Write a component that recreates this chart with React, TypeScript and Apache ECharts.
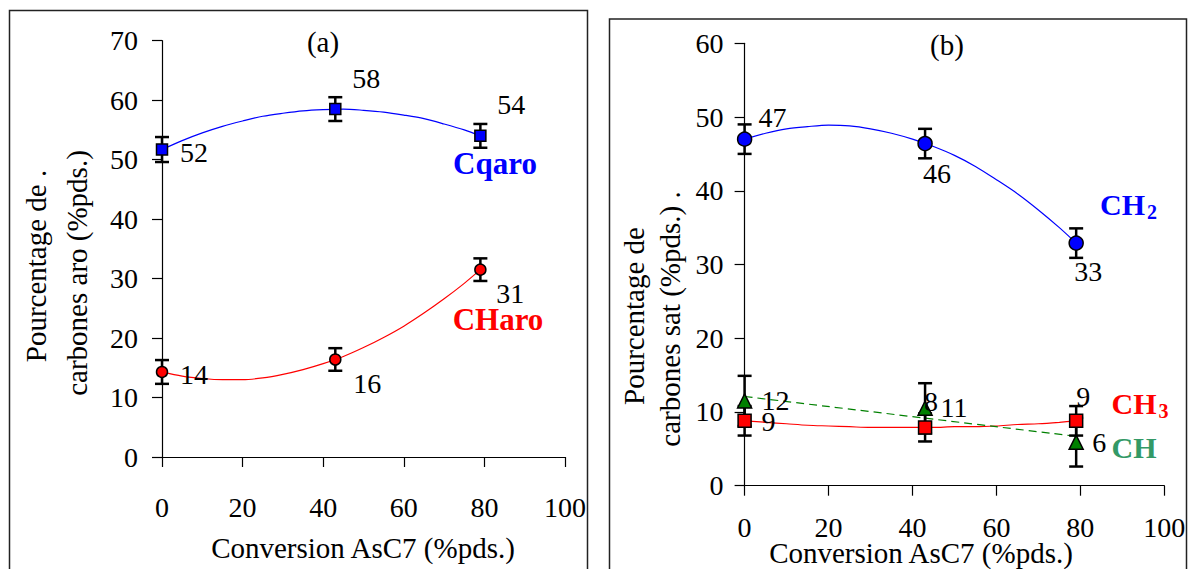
import React, { useEffect, useRef } from "react";
import * as echarts from "echarts";

// ---------- data ----------
const conversion = [0, 43, 79];
const xTicks = [0, 20, 40, 60, 80, 100];

// panel (a)
const cqaroValues = [51.7, 58.5, 54.0];
const cqaroErrors = [2.1, 2.0, 2.0];
const cqaroLabels = ["52", "58", "54"];
const charoValues = [14.3, 16.4, 31.5];
const charoErrors = [2.0, 1.9, 1.9];
const charoLabels = ["14", "16", "31"];
// trend curves
const trendX = [0, 5, 10, 15, 20, 25, 30, 35, 40, 45, 50, 55, 60, 65, 70, 75, 79];
const cqaroTrendY = [51.7, 53.2, 54.5, 55.6, 56.5, 57.3, 57.8, 58.2, 58.4, 58.5, 58.3, 58.0, 57.5, 56.9, 56.0, 55.0, 54.0];
const charoTrendY = [14.3, 13.6, 13.2, 13.0, 13.0, 13.3, 13.9, 14.7, 15.7, 16.9, 18.4, 20.1, 22.0, 24.2, 26.6, 29.2, 31.5];

// panel (b)
const ch2Values = [47.0, 46.4, 32.9];
const ch2Errors = [2.0, 2.0, 2.0];
const ch2Labels = ["47", "46", "33"];
const ch3Values = [8.8, 7.9, 8.8];
const ch3Errors = [2.0, 1.9, 2.0];
const ch3Labels = ["9", "8", "9"];
const chValues = [11.5, 10.5, 5.9];
const chErrors = [3.4, 3.4, 3.3];
const chLabels = ["12", "11", "6"];
const ch2TrendY = [47.0, 47.8, 48.4, 48.7, 48.9, 48.8, 48.4, 47.8, 47.0, 46.0, 44.8, 43.3, 41.5, 39.6, 37.4, 35.0, 32.9];
const ch3TrendY = [8.8, 8.6, 8.4, 8.2, 8.1, 8.0, 7.9, 7.9, 7.9, 7.9, 8.0, 8.0, 8.1, 8.3, 8.4, 8.6, 8.8];
const chTrendX = [0, 79];
const chTrendY = [12.1, 6.7];

// ---------- styles ----------
const FONT = '"Liberation Serif", "Times New Roman", Times, serif';
const BLUE = "#0000ff";
const RED = "#ff0000";
const GREEN = "#008000";
const SEAGREEN = "#339966";

const cqaroOffsets = [[32, 3], [31, -31], [31, -31]];
const charoOffsets = [[32, 3], [32, 24], [30, 24]];
const ch2Offsets = [[28, -22], [12, 30], [12, 28]];
const ch3Offsets = [[24, 1], [6, -26], [7, -24]];
const chOffsets = [[31, 0], [29, -1], [23, 0]];

function trendSeries(gi: number, xs: number[], ys: number[], color: string, dashed = false) {
  return {
    type: "line",
    xAxisIndex: gi,
    yAxisIndex: gi,
    z: 2,
    smooth: 0.3,
    showSymbol: false,
    symbol: "none",
    silent: true,
    lineStyle: { color, width: 1.2, type: dashed ? [8, 5] : "solid" },
    data: xs.map((x, i) => [x, ys[i]]),
  };
}

function errorSeries(gi: number, values: number[], errors: number[]) {
  return {
    type: "custom",
    xAxisIndex: gi,
    yAxisIndex: gi,
    z: 3,
    silent: true,
    encode: { x: 0, y: 1 },
    data: conversion.map((x, i) => [x, values[i], errors[i]]),
    renderItem: (_params: any, api: any) => {
      const x = api.value(0);
      const y = api.value(1);
      const e = api.value(2);
      const hi = api.coord([x, y + e]);
      const lo = api.coord([x, y - e]);
      const w = 7;
      const style = { stroke: "#000", lineWidth: 2.5 };
      return {
        type: "group",
        children: [
          { type: "line", shape: { x1: hi[0], y1: hi[1], x2: lo[0], y2: lo[1] }, style },
          { type: "line", shape: { x1: hi[0] - w, y1: hi[1], x2: hi[0] + w, y2: hi[1] }, style },
          { type: "line", shape: { x1: lo[0] - w, y1: lo[1], x2: lo[0] + w, y2: lo[1] }, style },
        ],
      };
    },
  };
}

function pointSeries(
  gi: number,
  values: number[],
  labels: string[],
  offsets: number[][],
  symbol: string,
  size: number,
  color: string
) {
  return {
    type: "scatter",
    xAxisIndex: gi,
    yAxisIndex: gi,
    z: 4,
    symbol,
    symbolSize: size,
    itemStyle: { color, borderColor: "#000", borderWidth: 1.5, opacity: 1 },
    label: {
      show: true,
      position: "inside",
      formatter: (p: any) => labels[p.dataIndex],
      color: "#000",
      fontFamily: FONT,
      fontSize: 28,
      lineHeight: 20,
    },
    data: conversion.map((x, i) => ({ value: [x, values[i]], label: { offset: offsets[i] } })),
  };
}

function xAxisCfg(gi: number, labelMargin: number) {
  return {
    type: "value",
    gridIndex: gi,
    min: 0,
    max: 100,
    interval: 20,
    axisLine: { show: true, lineStyle: { color: "#000", width: 1.2 } },
    axisTick: { show: true, length: 10, lineStyle: { color: "#000", width: 1.2 } },
    axisLabel: {
      margin: labelMargin,
      color: "#000",
      fontFamily: FONT,
      fontSize: 28,
      lineHeight: 20,
      formatter: (v: number) => (xTicks.includes(v) ? String(v) : ""),
    },
    splitLine: { show: false },
  };
}

function yAxisCfg(gi: number, max: number, labelMargin: number) {
  return {
    type: "value",
    gridIndex: gi,
    min: 0,
    max,
    interval: 10,
    axisLine: { show: true, lineStyle: { color: "#000", width: 1.2 } },
    axisTick: { show: true, length: 10, lineStyle: { color: "#000", width: 1.2 } },
    axisLabel: { margin: labelMargin, color: "#000", fontFamily: FONT, fontSize: 28 },
    splitLine: { show: false },
  };
}

function txt(
  text: string,
  x: number,
  y: number,
  size: number,
  color = "#000",
  bold = false,
  rotation = 0
) {
  return {
    type: "text",
    x,
    y,
    rotation,
    silent: true,
    style: {
      text,
      fill: color,
      fontFamily: FONT,
      fontSize: size,
      fontWeight: bold ? "bold" : "normal",
      lineHeight: Math.round(size * 0.75),
      align: "center",
      verticalAlign: "middle",
      textAlign: "center",
      textVerticalAlign: "middle",
    },
  };
}

export default function App() {
  const ref = useRef<HTMLDivElement>(null);

  useEffect(() => {
    if (!ref.current) return;
    const chart = echarts.init(ref.current, undefined, { renderer: "svg" });
    const R = Math.PI / 2;
    chart.setOption({
      animation: false,
      backgroundColor: "#fff",
      grid: [
        { left: 162, top: 40.7, width: 403, height: 416.3 },
        { left: 744.6, top: 43.3, width: 419.7, height: 442.4 },
      ],
      xAxis: [xAxisCfg(0, 40), xAxisCfg(1, 32)],
      yAxis: [yAxisCfg(0, 70, 24), yAxisCfg(1, 60, 21)],
      series: [
        trendSeries(0, trendX, cqaroTrendY, BLUE),
        trendSeries(0, trendX, charoTrendY, RED),
        errorSeries(0, cqaroValues, cqaroErrors),
        errorSeries(0, charoValues, charoErrors),
        pointSeries(0, cqaroValues, cqaroLabels, cqaroOffsets, "rect", 11, BLUE),
        pointSeries(0, charoValues, charoLabels, charoOffsets, "circle", 11, RED),

        trendSeries(1, trendX, ch2TrendY, BLUE),
        trendSeries(1, trendX, ch3TrendY, RED),
        trendSeries(1, chTrendX, chTrendY, GREEN, true),
        errorSeries(1, ch2Values, ch2Errors),
        errorSeries(1, ch3Values, ch3Errors),
        errorSeries(1, chValues, chErrors),
        pointSeries(1, ch2Values, ch2Labels, ch2Offsets, "circle", 14, BLUE),
        pointSeries(1, chValues, chLabels, chOffsets, "triangle", 14, GREEN),
        pointSeries(1, ch3Values, ch3Labels, ch3Offsets, "rect", 13, RED),
      ],
      graphic: [
        {
          type: "rect",
          silent: true,
          shape: { x: 9.5, y: 10.5, width: 578, height: 580 },
          style: { fill: "none", stroke: "#222", lineWidth: 1.5 },
        },
        {
          type: "rect",
          silent: true,
          shape: { x: 609.5, y: 19, width: 577, height: 580 },
          style: { fill: "none", stroke: "#222", lineWidth: 1.5 },
        },
        txt("(a)", 323, 42, 29),
        txt("(b)", 947, 45, 29),
        txt("Conversion AsC7 (%pds.)", 363, 548, 29),
        txt("Conversion AsC7 (%pds.)", 921, 553, 29),
        txt("Pourcentage de .", 36, 266, 29, "#000", false, R),
        txt("carbones aro (%pds.)", 77, 273, 29, "#000", false, R),
        txt("Pourcentage de", 634, 316, 29, "#000", false, R),
        txt("carbones sat (%pds.) .", 670, 319, 29, "#000", false, R),
        txt("Cqaro", 495, 163, 31, BLUE, true),
        txt("CHaro", 498, 319, 31, RED, true),
        txt("CH", 1122.5, 204, 30, BLUE, true),
        txt("2", 1152, 212, 20, BLUE, true),
        txt("CH", 1134, 403, 30, RED, true),
        txt("3", 1163.5, 411, 20, RED, true),
        txt("CH", 1134, 447, 30, SEAGREEN, true),
      ],
    });
    return () => chart.dispose();
  }, []);

  return (
    <div
      ref={ref}
      style={{ position: "fixed", left: 0, top: 0, width: 1189, height: 569, background: "#fff" }}
    />
  );
}
